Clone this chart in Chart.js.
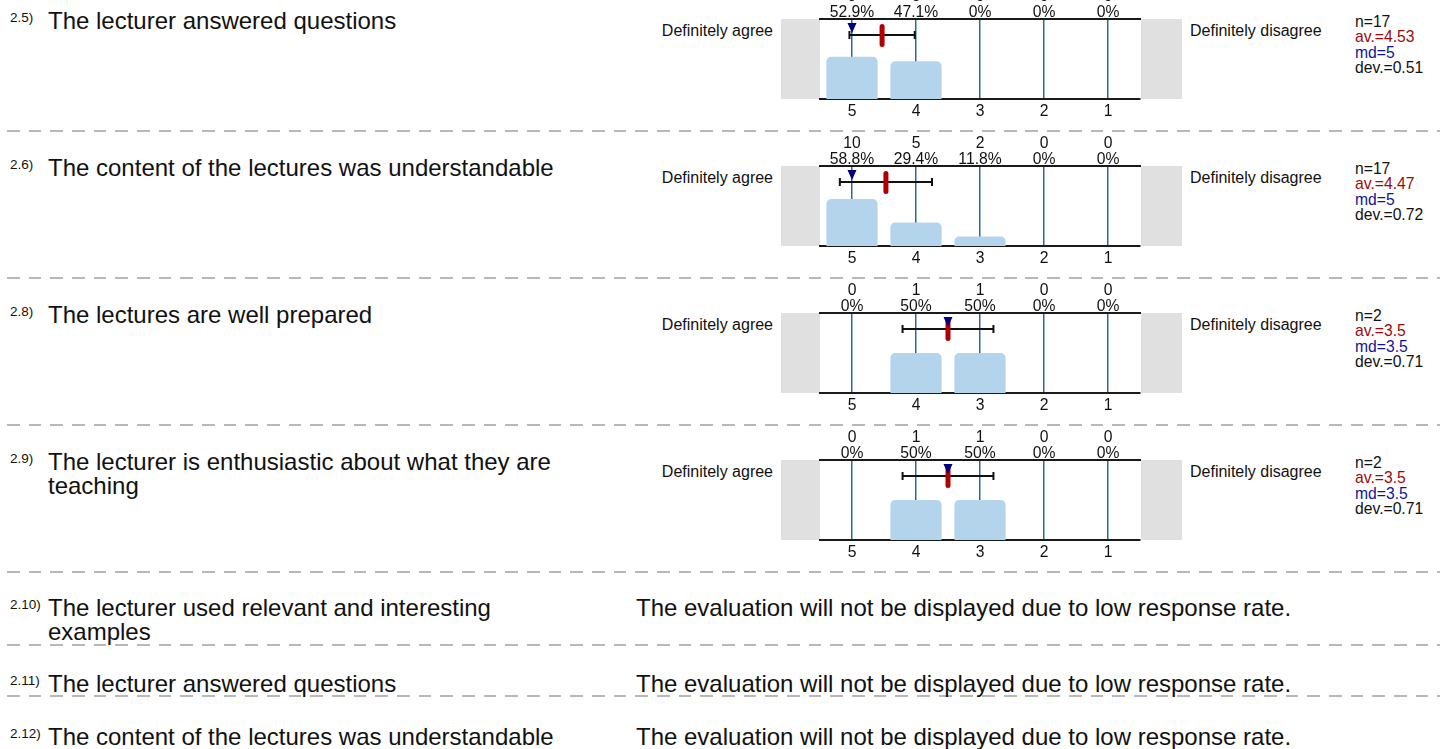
<!DOCTYPE html>
<html>
<head>
<meta charset="utf-8">
<script src="https://cdn.jsdelivr.net/npm/chart.js@4.4.1/dist/chart.umd.min.js"></script>
<style>
  body { margin: 0; width: 1440px; height: 749px; overflow: hidden; position: relative; background: #fff;
         font-family: "Liberation Sans", Arial, sans-serif; color: #111; }
  .abs { position: absolute; white-space: pre; }
  .qnum { font-size: 13.5px; line-height: 13.5px; }
  .qtext { font-size: 24px; line-height: 24px; }
  .anchor { font-size: 16px; line-height: 16px; }
  .stats { font-size: 15.7px; line-height: 15.5px; }
  .sep { position: absolute; left: 0; width: 1440px; height: 2px;
         background: repeating-linear-gradient(to right, transparent 0 7px, #b8b8b8 7px 19.7px, transparent 19.7px 21.67px); }
  canvas { position: absolute; }
</style>
</head>
<body>
<script>
// Scale of answers (5 = definitely agree ... 1 = definitely disagree)
const scaleLabels = ['5', '4', '3', '2', '1'];

// Questions that have a chart
const questionNumbers = ['2.5)', '2.6)', '2.8)', '2.9)'];
const questionTexts = [
  'The lecturer answered questions',
  'The content of the lectures was understandable',
  'The lectures are well prepared',
  'The lecturer is enthusiastic about what they are\nteaching',
];

// Answer counts and percentages per question
const counts25 = [9, 8, 0, 0, 0];
const counts26 = [10, 5, 2, 0, 0];
const counts28 = [0, 1, 1, 0, 0];
const counts29 = [0, 1, 1, 0, 0];
const percents25 = [52.9, 47.1, 0, 0, 0];
const percents26 = [58.8, 29.4, 11.8, 0, 0];
const percents28 = [0, 50, 50, 0, 0];
const percents29 = [0, 50, 50, 0, 0];

// Summary statistics per question
const nValues = [17, 17, 2, 2];
const meanValues = [4.53, 4.47, 3.5, 3.5];
const medianValues = [5, 5, 3.5, 3.5];
const devValues = [0.51, 0.72, 0.71, 0.71];

// Questions without enough answers
const hiddenNumbers = ['2.10)', '2.11)', '2.12)'];
const hiddenTexts = [
  'The lecturer used relevant and interesting\nexamples',
  'The lecturer answered questions',
  'The content of the lectures was understandable',
];
const lowResponseText = 'The evaluation will not be displayed due to low response rate.';

const allCounts = [counts25, counts26, counts28, counts29];
const allPercents = [percents25, percents26, percents28, percents29];

// Layout
const frameTops = [19, 166, 313, 460];
const separatorYs = [131, 278, 425, 572, 645, 696];
const hiddenBaselines = [616, 692, 745];
const FONT = '"Liberation Sans", Arial, sans-serif';

// Put a text so that its first baseline sits at y
function addText(cls, text, left, baseline, baseOffset, color, right) {
  const el = document.createElement('div');
  el.className = 'abs ' + cls;
  el.textContent = text;
  if (right !== undefined) {
    el.style.right = (1440 - right) + 'px';
    el.style.textAlign = 'right';
  } else {
    el.style.left = left + 'px';
  }
  el.style.top = (baseline - baseOffset) + 'px';
  if (color) el.style.color = color;
  document.body.appendChild(el);
  return el;
}

separatorYs.forEach(function (y) {
  const d = document.createElement('div');
  d.className = 'sep';
  d.style.top = (y - 1) + 'px';
  document.body.appendChild(d);
});

// Grey boxes left and right of the plot frame
const sideBoxes = {
  id: 'sideBoxes',
  beforeDraw(chart) {
    const { ctx, chartArea: a, width } = chart;
    ctx.save();
    ctx.fillStyle = '#e0e0e0';
    ctx.fillRect(0, a.top, a.left, a.bottom - a.top);
    ctx.fillRect(a.right + 1, a.top, width - a.right - 1, a.bottom - a.top);
    ctx.restore();
  },
};

// Mean, median and standard deviation markers
const statMarkers = {
  id: 'statMarkers',
  afterDraw(chart, args, opts) {
    const { ctx, chartArea: a } = chart;
    const xs = chart.scales.x;
    const px = (v) => xs.getPixelForValue(5 - v);
    const y0 = a.top + 16;
    ctx.save();
    // whisker
    const xl = px(opts.mean + opts.dev);
    const xr = px(opts.mean - opts.dev);
    ctx.strokeStyle = '#111';
    ctx.lineWidth = 2;
    ctx.beginPath();
    ctx.moveTo(xl, y0); ctx.lineTo(xr, y0);
    ctx.moveTo(xl, y0 - 4); ctx.lineTo(xl, y0 + 4);
    ctx.moveTo(xr, y0 - 4); ctx.lineTo(xr, y0 + 4);
    ctx.stroke();
    // mean
    ctx.fillStyle = '#b00000';
    ctx.beginPath();
    ctx.roundRect(px(opts.mean) - 2.5, a.top + 5, 5, 23, 2.5);
    ctx.fill();
    // median
    const xm = px(opts.median);
    ctx.fillStyle = '#000080';
    ctx.beginPath();
    ctx.moveTo(xm - 4.5, a.top + 4);
    ctx.lineTo(xm + 4.5, a.top + 4);
    ctx.lineTo(xm, a.top + 14);
    ctx.closePath();
    ctx.fill();
    ctx.restore();
  },
};

function makeBlock(i) {
  const top = frameTops[i];
  const counts = allCounts[i];
  const percents = allPercents[i];

  addText('qnum', questionNumbers[i], 10, top + 3, 11.4);
  addText('qtext', questionTexts[i], 48, top + 10.5, 20.3);
  addText('anchor', 'Definitely agree', 0, top + 17, 13.5, null, 773);
  addText('anchor', 'Definitely disagree', 1190, top + 17, 13.5);

  const st = addText('stats', '', 1355, top + 8, 13.2);
  st.innerHTML = 'n=' + nValues[i] + '<br>' +
    '<span style="color:#9b0a0a">av.=' + meanValues[i] + '</span><br>' +
    '<span style="color:#12129a">md=' + medianValues[i] + '</span><br>' +
    'dev.=' + devValues[i];

  const canvas = document.createElement('canvas');
  canvas.width = 401;
  canvas.height = 136;
  canvas.style.left = '781px';
  canvas.style.top = (top - 34) + 'px';
  document.body.appendChild(canvas);

  new Chart(canvas, {
    type: 'bar',
    data: {
      labels: scaleLabels,
      datasets: [{
        data: percents,
        backgroundColor: '#b4d4ec',
        borderRadius: { topLeft: 5, topRight: 5 },
        borderSkipped: 'start',
        barPercentage: 0.8,
        categoryPercentage: 1,
      }],
    },
    options: {
      responsive: false,
      animation: false,
      devicePixelRatio: 1,
      layout: { padding: { left: 39, right: 42, top: 0, bottom: 0 } },
      plugins: {
        legend: { display: false },
        tooltip: { enabled: false },
        statMarkers: { mean: meanValues[i], median: medianValues[i], dev: devValues[i] },
      },
      scales: {
        x: {
          position: 'bottom',
          offset: true,
          z: 1,
          grid: { offset: false, color: '#2b66a8', lineWidth: 1.5, drawTicks: false },
          border: { color: '#1a1a1a', width: 2 },
          ticks: { color: '#111', font: { family: FONT, size: 15.7 }, padding: 3, maxRotation: 0, autoSkip: false },
          afterFit: (s) => { s.height = 22; },
        },
        xTop: {
          type: 'category',
          position: 'top',
          offset: true,
          grid: { display: false, drawTicks: false },
          border: { color: '#1a1a1a', width: 2 },
          ticks: {
            color: '#111',
            font: { family: FONT, size: 15.7, lineHeight: 1.02 },
            padding: -1.5,
            maxRotation: 0,
            autoSkip: false,
            callback: (val, idx) => [String(counts[idx]), percents[idx] + '%'],
          },
          afterFit: (s) => { s.height = 34; },
        },
        y: { display: false, min: 0, max: 100 },
      },
    },
    plugins: [sideBoxes, statMarkers],
  });
}

for (let i = 0; i < frameTops.length; i++) makeBlock(i);

hiddenTexts.forEach(function (t, i) {
  const b = hiddenBaselines[i];
  addText('qnum', hiddenNumbers[i], 10, b - 7, 11.4);
  addText('qtext', t, 48, b, 20.3);
  addText('qtext', lowResponseText, 636, b, 20.3);
});
</script>
</body>
</html>
